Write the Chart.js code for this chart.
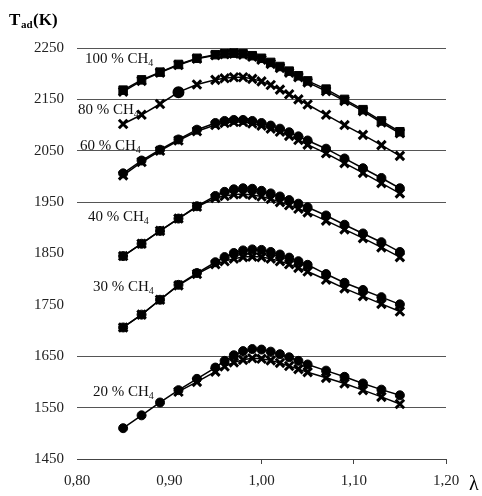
<!DOCTYPE html>
<html>
<head>
<meta charset="utf-8">
<script src="https://cdn.jsdelivr.net/npm/chart.js@4/dist/chart.umd.min.js"></script>
<style>
  body { margin: 0; background: #fff; }
  canvas { display: block; }
</style>
</head>
<body>
<canvas id="chart" width="482" height="496"></canvas>
<script>
// excess air ratio lambda
const lambda = [0.85, 0.87, 0.89, 0.91, 0.93, 0.95, 0.96, 0.97, 0.98, 0.99, 1.00,
  1.01, 1.02, 1.03, 1.04, 1.05, 1.07, 1.09, 1.11, 1.13, 1.15];

// adiabatic flame temperature (K), two data sets per CH4 fraction
const ch4_100_a = [2168, 2188, 2203, 2218, 2230, 2237, 2239, 2240, 2239, 2235, 2230,
  2222, 2214, 2205, 2196, 2186, 2170, 2150, 2130, 2108, 2087];
const ch4_100_b = [2165, 2186, 2202, 2217, 2229, 2236, 2238, 2239, 2237, 2233, 2227,
  2219, 2211, 2202, 2193, 2183, 2166, 2147, 2127, 2105, 2084];

const ch4_80 = [2102, 2120, 2141, 2164, 2179, 2188, 2191, 2193, 2193, 2190, 2185,
  2178, 2169, 2160, 2150, 2140, 2120, 2100, 2081, 2061, 2040];

const ch4_60_a = [2006, 2031, 2052, 2072, 2091, 2104, 2108, 2110, 2110, 2108, 2104,
  2099, 2093, 2086, 2078, 2070, 2054, 2035, 2016, 1997, 1977];
const ch4_60_b = [2002, 2028, 2050, 2070, 2088, 2100, 2104, 2106, 2106, 2103, 2099,
  2093, 2087, 2079, 2071, 2062, 2045, 2026, 2007, 1987, 1967];

const ch4_40_a = [1845, 1869, 1894, 1918, 1942, 1962, 1970, 1975, 1977, 1976, 1972,
  1967, 1961, 1954, 1947, 1940, 1924, 1906, 1889, 1872, 1853];
const ch4_40_b = [1845, 1869, 1894, 1918, 1941, 1958, 1962, 1965, 1966, 1964, 1961,
  1956, 1950, 1944, 1937, 1930, 1914, 1897, 1880, 1862, 1843];

const ch4_30_a = [1706, 1731, 1760, 1789, 1812, 1833, 1843, 1851, 1856, 1858, 1857,
  1853, 1848, 1842, 1835, 1828, 1810, 1793, 1779, 1765, 1751];
const ch4_30_b = [1706, 1731, 1760, 1788, 1810, 1829, 1835, 1840, 1843, 1844, 1843,
  1840, 1835, 1829, 1822, 1815, 1799, 1782, 1767, 1752, 1737];

const ch4_20_a = [1510, 1535, 1560, 1584, 1606, 1628, 1641, 1652, 1660, 1664, 1663,
  1659, 1654, 1648, 1641, 1634, 1622, 1610, 1597, 1585, 1574];
const ch4_20_b = [null, null, null, 1581, 1600, 1620, 1630, 1638, 1643, 1646, 1645,
  1642, 1637, 1631, 1625, 1619, 1608, 1597, 1584, 1571, 1557];

const curveLabels = [
  { pct: "100", x: 85, y: 63 },
  { pct: "80", x: 78, y: 114, box: true },
  { pct: "60", x: 80, y: 150 },
  { pct: "40", x: 88, y: 221 },
  { pct: "30", x: 93, y: 291 },
  { pct: "20", x: 93, y: 396 },
];

const hiddenGrid = [1850, 1750];
const serif = "'Liberation Serif', 'DejaVu Serif', serif";

function points(values) {
  return lambda.map((x, i) => ({ x: x, y: values[i] }));
}

function crosses(values) {
  return {
    data: points(values),
    borderColor: "#000",
    backgroundColor: "#000",
    borderWidth: 1.5,
    pointStyle: "crossRot",
    pointRadius: 6,
    pointBorderWidth: 3,
    showLine: true,
    spanGaps: true,
  };
}

function dots(values, style) {
  return {
    data: points(values),
    borderColor: "#000",
    backgroundColor: "#000",
    borderWidth: 1.5,
    pointStyle: style || "circle",
    pointRadius: style === "rect" ? 6 : 4.5,
    pointBorderWidth: 1,
    showLine: true,
  };
}

const ch80 = crosses(ch4_80);
ch80.pointStyle = (ctx) => (ctx.dataIndex === 3 ? "circle" : "crossRot");
ch80.pointRadius = (ctx) => (ctx.dataIndex === 3 ? 4.5 : 6);

function drawCH4(ctx, label) {
  ctx.save();
  ctx.font = "15px " + serif;
  ctx.fillStyle = "#111";
  ctx.textBaseline = "alphabetic";
  const main = label.pct + " % CH";
  const w = ctx.measureText(main).width;
  if (label.box) {
    ctx.fillStyle = "#fff";
    ctx.fillRect(label.x - 1, label.y - 13, w + 9, 18);
    ctx.fillStyle = "#111";
  }
  ctx.fillText(main, label.x, label.y);
  ctx.font = "10px " + serif;
  ctx.fillText("4", label.x + w, label.y + 3);
  ctx.restore();
}

const textPlugin = {
  id: "texts",
  beforeDatasetsDraw(chart) {
    curveLabels.forEach((l) => drawCH4(chart.ctx, l));
  },
  afterDraw(chart) {
    const ctx = chart.ctx;
    ctx.save();
    ctx.fillStyle = "#000";
    ctx.font = "bold 17px " + serif;
    ctx.fillText("T", 9, 25);
    ctx.font = "bold 11px " + serif;
    ctx.fillText("ad", 21, 28);
    ctx.font = "bold 17px " + serif;
    ctx.fillText("(K)", 33, 25);
    ctx.font = "20px " + serif;
    ctx.fillText("λ", 469, 490);
    ctx.restore();
  },
};

new Chart(document.getElementById("chart"), {
  type: "scatter",
  data: {
    datasets: [
      crosses(ch4_100_b), dots(ch4_100_a, "rect"),
      ch80,
      crosses(ch4_60_b), dots(ch4_60_a),
      crosses(ch4_40_b), dots(ch4_40_a),
      crosses(ch4_30_b), dots(ch4_30_a),
      crosses(ch4_20_b), dots(ch4_20_a),
    ],
  },
  options: {
    responsive: false,
    animation: false,
    devicePixelRatio: 1,
    layout: { padding: { top: 48, right: 36, left: 0, bottom: 0 } },
    plugins: { legend: { display: false }, tooltip: { enabled: false } },
    scales: {
      x: {
        type: "linear",
        min: 0.8,
        max: 1.2,
        ticks: {
          stepSize: 0.1,
          color: "#222",
          font: { family: serif, size: 15 },
          padding: 8,
          callback: (v) => v.toFixed(2).replace(".", ","),
        },
        grid: {
          drawOnChartArea: false,
          tickLength: 5,
          tickColor: (ctx) => (ctx.tick && ctx.tick.value > 0.95 ? "#444" : "rgba(0,0,0,0)"),
        },
        border: { color: "#444", width: 1 },
        afterFit: (scale) => { scale.height = 37; },
      },
      y: {
        min: 1450,
        max: 2250,
        ticks: {
          stepSize: 100,
          color: "#222",
          font: { family: serif, size: 15 },
          padding: 13,
          callback: (v) => String(v),
        },
        grid: {
          drawTicks: false,
          color: (ctx) => (ctx.tick && hiddenGrid.includes(ctx.tick.value) ? "rgba(0,0,0,0)" : "#555"),
        },
        border: { display: false },
        afterFit: (scale) => { scale.width = 77; },
      },
    },
  },
  plugins: [textPlugin],
});
</script>
</body>
</html>
